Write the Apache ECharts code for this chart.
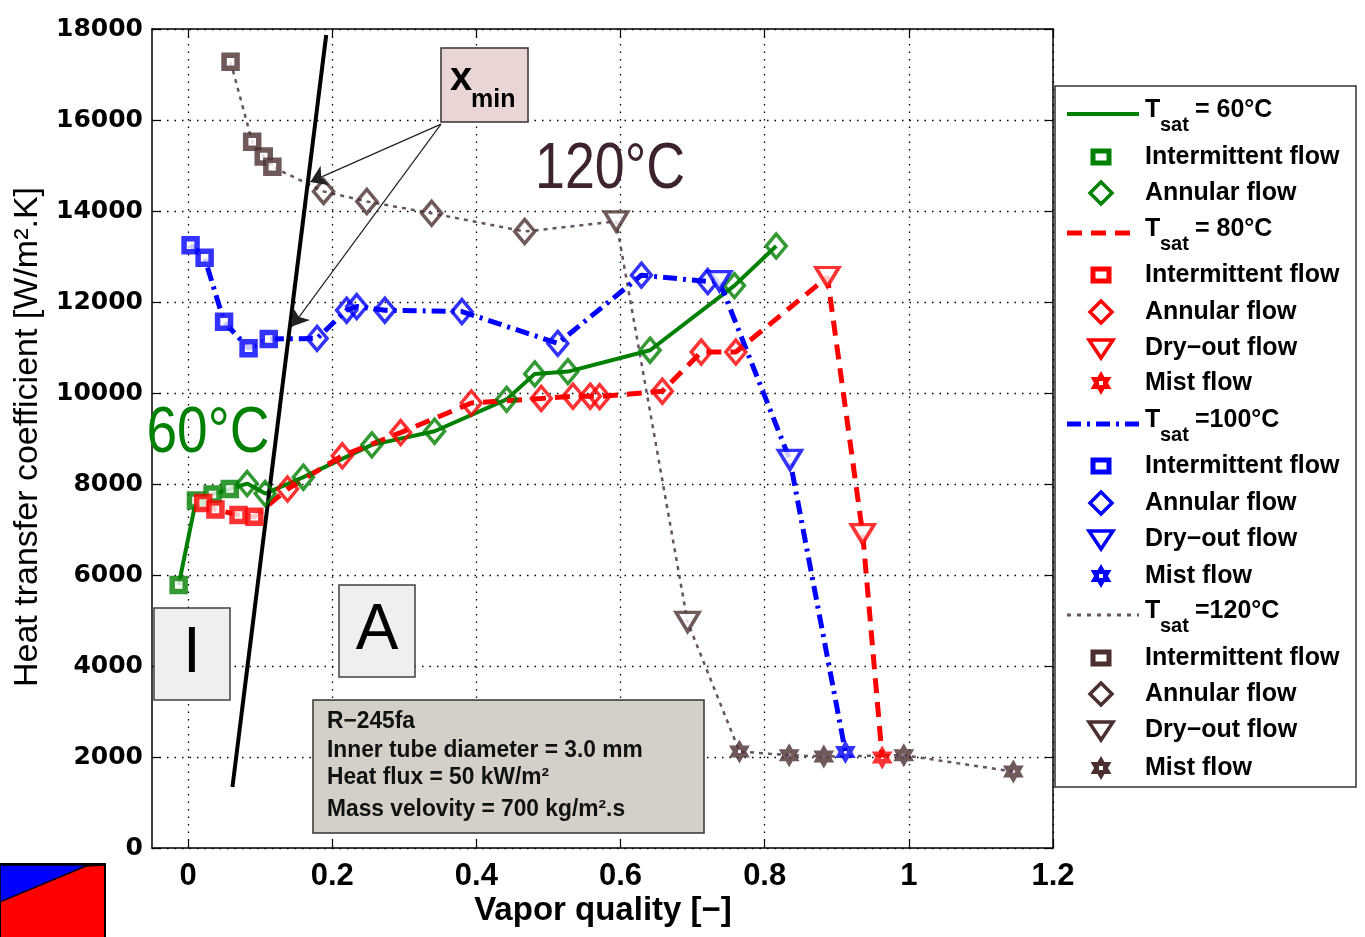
<!DOCTYPE html>
<html><head><meta charset="utf-8">
<script src="https://cdn.jsdelivr.net/npm/echarts@6/dist/echarts.min.js"></script>
<style>html,body{margin:0;padding:0;background:#fff}#c{width:1365px;height:937px}</style>
</head><body><div id="c"></div><script>
// ---- data ----
const xTickValues = [0, 0.2, 0.4, 0.6, 0.8, 1, 1.2];
const yTickValues = [0, 2000, 4000, 6000, 8000, 10000, 12000, 14000, 16000, 18000];

const t60_intermittent = [[-0.013, 5780], [0.011, 7640], [0.034, 7770], [0.058, 7890]];
const t60_annular = [[0.082, 8010], [0.107, 7790], [0.160, 8150], [0.255, 8860], [0.342, 9160], [0.442, 9860], [0.481, 10420], [0.527, 10470], [0.641, 10940], [0.758, 12360], [0.816, 13230]];

const t80_intermittent = [[0.021, 7580], [0.038, 7440], [0.070, 7320], [0.092, 7280]];
const t80_annular = [[0.138, 7890], [0.214, 8620], [0.295, 9130], [0.393, 9780], [0.490, 9880], [0.534, 9930], [0.558, 9930], [0.571, 9920], [0.658, 10040], [0.712, 10900], [0.760, 10900]];
const t80_dryout = [[0.887, 12550], [0.936, 6900]];
const t80_mist = [[0.963, 1990]];

const t100_intermittent = [[0.0035, 13250], [0.023, 12970], [0.050, 11565], [0.084, 10985], [0.112, 11185]];
const t100_annular = [[0.179, 11200], [0.220, 11820], [0.234, 11900], [0.273, 11820], [0.380, 11790], [0.513, 11090], [0.629, 12590], [0.721, 12450]];
const t100_dryout = [[0.737, 12460], [0.835, 8530]];
const t100_mist = [[0.912, 2110]];

const t120_intermittent = [[0.059, 17280], [0.089, 15520], [0.105, 15200], [0.117, 14970]];
const t120_annular = [[0.188, 14430], [0.248, 14210], [0.338, 13950], [0.467, 13550]];
const t120_dryout = [[0.594, 13770], [0.693, 4970]];
const t120_mist = [[0.765, 2120], [0.834, 2040], [0.882, 2010], [0.993, 2040], [1.145, 1680]];

const xminLine = [[0.0616, 1340], [0.1917, 17870]];
const xminArrowStart = [0.351, 15910];
const xminArrowTips = [[0.1696, 14640], [0.1442, 11460]];

// ---- styles ----
const C60 = '#008000', C80 = '#ff0000', C100 = '#0000ff', C120 = '#4b2f2f', C120line = '#665264';
const SANS = "'Liberation Sans',Arial,sans-serif";

function hexStarPts(cx, cy, R) {
  const pts = [];
  for (let i = 0; i < 12; i++) {
    const a = (-90 + i * 30) * Math.PI / 180;
    const r = (i % 2 === 0) ? R : R / Math.sqrt(3);
    pts.push([cx + r * Math.cos(a), cy + r * Math.sin(a)]);
  }
  return pts;
}
const starPts = hexStarPts(50, 50, 50);
const STAR = 'path://M' + starPts.map(p => p[0].toFixed(2) + ',' + p[1].toFixed(2)).join(' L') + ' Z M44,44 L44,56 L56,56 L56,44 Z';

function lineSeries(data, color, type, width) {
  return { type: 'line', data: data, symbol: 'none', z: 2, silent: true,
    lineStyle: { color: color, width: width, type: type } };
}
function markSeries(data, color, kind) {
  const s = { type: 'scatter', data: data, z: 4, silent: true };
  if (kind === 'rect') { s.symbol = 'rect'; s.symbolSize = 13; s.itemStyle = { color: '#fff', borderColor: color, borderWidth: 5.5 }; }
  if (kind === 'diamond') { s.symbol = 'diamond'; s.symbolSize = [20, 24]; s.itemStyle = { color: 'rgba(255,255,255,0)', borderColor: color, borderWidth: 3.5 }; }
  if (kind === 'tri') { s.symbol = 'triangle'; s.symbolRotate = 180; s.symbolSize = [23, 19]; s.itemStyle = { color: '#fff', borderColor: color, borderWidth: 3.5 }; }
  if (kind === 'star') { s.symbol = STAR; s.symbolKeepAspect = true; s.symbolSize = 24; s.itemStyle = { color: color }; }
  return s;
}

const series = [
  { type: 'line', data: xminLine, symbol: 'none', z: 3, lineStyle: { color: '#000', width: 4 } },
  { type: 'lines', coordinateSystem: 'cartesian2d', z: 5, symbol: ['none', 'arrow'], symbolSize: 16,
    lineStyle: { color: '#222', width: 1.2, opacity: 1 },
    data: xminArrowTips.map(t => ({ coords: [xminArrowStart, t] })) },
  lineSeries(t120_intermittent.concat(t120_annular, t120_dryout, t120_mist), C120line, [4, 5], 2.5),
  lineSeries(t60_intermittent.concat(t60_annular), C60, 'solid', 4),
  lineSeries(t80_intermittent.concat(t80_annular, t80_dryout, t80_mist), C80, [15, 9], 5),
  lineSeries(t100_intermittent.concat(t100_annular, t100_dryout, t100_mist), C100, [14, 6, 3, 6], 5),
  markSeries(t120_intermittent, C120, 'rect'),
  markSeries(t120_annular, C120, 'diamond'),
  markSeries(t120_dryout, C120, 'tri'),
  markSeries(t120_mist, C120, 'star'),
  markSeries(t60_intermittent, C60, 'rect'),
  markSeries(t60_annular, C60, 'diamond'),
  markSeries(t80_intermittent, C80, 'rect'),
  markSeries(t80_annular, C80, 'diamond'),
  markSeries(t80_dryout, C80, 'tri'),
  markSeries(t80_mist, C80, 'star'),
  markSeries(t100_intermittent, C100, 'rect'),
  markSeries(t100_annular, C100, 'diamond'),
  markSeries(t100_dryout, C100, 'tri'),
  markSeries(t100_mist, C100, 'star')
];

// ---- graphic: annotations and legend ----
const g = [];
function txt(x, y, text, font, fill, align, valign, extra) {
  const o = { type: 'text', x: x, y: y, z: 100, style: { text: text, font: font, fill: fill || '#000',
    align: align || 'left', verticalAlign: valign || 'middle', textAlign: align || 'left', textVerticalAlign: valign || 'middle' } };
  if (extra) Object.assign(o, extra);
  g.push(o);
}
function rect(x, y, w, h, fill, stroke, lw) {
  g.push({ type: 'rect', z: 90, shape: { x: x, y: y, width: w, height: h }, style: { fill: fill, stroke: stroke, lineWidth: lw } });
}

// axis titles
txt(28, 437, 'Heat transfer coefficient [W/m\u00b2.K]', '34px ' + SANS, '#000', 'center', 'middle', { rotation: Math.PI / 2 });
txt(603, 911, 'Vapor quality [\u2212]', 'bold 33px ' + SANS, '#000', 'center', 'middle');

// big temperature labels
txt(610, 170, '120\u00b0C', '64px ' + SANS, '#3d2230', 'center', 'middle', { scaleX: 0.84 });
txt(208, 434, '60\u00b0C', '64px ' + SANS, C60, 'center', 'middle', { scaleX: 0.86 });

// region boxes
rect(154, 608, 76, 92, '#efefef', '#404040', 1.5);
txt(192, 654, 'I', '64px ' + SANS, '#000', 'center', 'middle');
rect(339, 585, 76, 92, '#efefef', '#404040', 1.5);
txt(377, 631, 'A', '64px ' + SANS, '#000', 'center', 'middle');

// x_min box
rect(441, 48, 87, 74, '#e8d5d4', '#333', 1.5);
txt(450, 79, 'x', 'bold 40px ' + SANS, '#000', 'left', 'middle');
txt(471, 100, 'min', 'bold 25px ' + SANS, '#000', 'left', 'middle');

// info box
rect(313, 700, 391, 133, '#d4d0c8', '#333', 1.5);
const infoLines = ['R\u2212245fa', 'Inner tube diameter = 3.0 mm', 'Heat flux = 50 kW/m\u00b2', 'Mass velovity = 700 kg/m\u00b2.s'];
const infoY = [722, 751, 778, 810];
infoLines.forEach((t, i) => txt(327, infoY[i], t, 'bold 23px ' + SANS, '#111', 'left', 'middle', { scaleX: 0.99 }));

// legend box
rect(1055, 86, 301, 701, '#fff', '#333', 1.5);
const LX = 1101;
function legLine(y, color, dash, w) {
  g.push({ type: 'line', z: 95, shape: { x1: 1067, y1: y, x2: 1139, y2: y }, style: { stroke: color, lineWidth: w, lineDash: dash } });
}
function legSym(kind, y, color) {
  if (kind === 'rect') g.push({ type: 'rect', z: 95, shape: { x: LX - 8, y: y - 6, width: 16, height: 12 }, style: { fill: '#fff', stroke: color, lineWidth: 5 } });
  if (kind === 'diamond') g.push({ type: 'polygon', z: 95, shape: { points: [[LX, y - 11], [LX + 11, y], [LX, y + 11], [LX - 11, y]] }, style: { fill: '#fff', stroke: color, lineWidth: 3.5 } });
  if (kind === 'tri') g.push({ type: 'polygon', z: 95, shape: { points: [[LX - 12, y - 8], [LX + 12, y - 8], [LX, y + 10]] }, style: { fill: '#fff', stroke: color, lineWidth: 3.5 } });
  if (kind === 'star') {
    g.push({ type: 'polygon', z: 95, shape: { points: hexStarPts(LX, y, 12) }, style: { fill: color } });
    g.push({ type: 'rect', z: 96, shape: { x: LX - 2, y: y - 2, width: 4, height: 4 }, style: { fill: '#fff' } });
  }
}
const LEGFONT = 'bold 25px ' + SANS;
function legTitle(y, color, dash, w, rest) {
  legLine(y + 4, color, dash, w);
  txt(1145, y, 'T', LEGFONT, '#000', 'left', 'middle');
  txt(1160, y + 15, 'sat', 'bold 20px ' + SANS, '#000', 'left', 'middle');
  txt(1195, y, rest, LEGFONT, '#000', 'left', 'middle');
}
function legItem(y, kind, color, label) {
  legSym(kind, y, color);
  txt(1145, y, label, LEGFONT, '#000', 'left', 'middle');
}
legTitle(110, C60, null, 4, '= 60\u00b0C');
legItem(157, 'rect', C60, 'Intermittent flow');
legItem(193, 'diamond', C60, 'Annular flow');
legTitle(229, C80, [15, 9], 5, '= 80\u00b0C');
legItem(275, 'rect', C80, 'Intermittent flow');
legItem(312, 'diamond', C80, 'Annular flow');
legItem(348, 'tri', C80, 'Dry\u2212out flow');
legItem(383, 'star', C80, 'Mist flow');
legTitle(420, C100, [14, 6, 3, 6], 5, '=100\u00b0C');
legItem(466, 'rect', C100, 'Intermittent flow');
legItem(503, 'diamond', C100, 'Annular flow');
legItem(539, 'tri', C100, 'Dry\u2212out flow');
legItem(576, 'star', C100, 'Mist flow');
legTitle(611, C120line, [4, 6], 3, '=120\u00b0C');
legItem(658, 'rect', C120, 'Intermittent flow');
legItem(694, 'diamond', C120, 'Annular flow');
legItem(730, 'tri', C120, 'Dry\u2212out flow');
legItem(768, 'star', C120, 'Mist flow');

// bottom-left corner swatch
g.push({ type: 'rect', z: 80, shape: { x: 0, y: 864, width: 105, height: 80 }, style: { fill: '#ff0000', stroke: '#000', lineWidth: 2 } });
g.push({ type: 'polygon', z: 81, shape: { points: [[0, 865], [104, 865], [86, 866], [0, 902]] }, style: { fill: '#0000ff', stroke: '#000', lineWidth: 1.5 } });

const gridLine = { show: true, lineStyle: { color: '#000', type: [1.5, 6], width: 1.3 } };
const axLine = { show: true, onZero: false, lineStyle: { color: '#000', width: 1.5 } };
const tick = { show: true, inside: true, length: 8, lineStyle: { color: '#000', width: 1.2 } };
const option = {
  animation: false,
  backgroundColor: '#fff',
  grid: { left: 152, right: 312, top: 29, bottom: 89, containLabel: false },
  xAxis: [
    { type: 'value', min: -0.05, max: 1.2, interval: 0.2, position: 'bottom',
      axisLine: axLine,
      axisTick: Object.assign({ customValues: xTickValues }, tick),
      axisLabel: { customValues: xTickValues, color: '#000', fontFamily: SANS, fontWeight: 'bold', fontSize: 31, margin: 13,
        formatter: v => String(Math.round(v * 10) / 10) },
      splitLine: gridLine },
    { type: 'value', min: -0.05, max: 1.2, interval: 0.2, position: 'top',
      axisLine: axLine,
      axisTick: Object.assign({ customValues: xTickValues }, tick),
      axisLabel: { show: false }, splitLine: { show: false } }
  ],
  yAxis: [
    { type: 'value', min: 0, max: 18000, interval: 2000, position: 'left',
      axisLine: axLine, axisTick: tick,
      axisLabel: { customValues: yTickValues, color: '#000', fontFamily: "'DejaVu Sans',sans-serif", fontWeight: 'bold', fontSize: 25, margin: 9,
        formatter: v => String(v) },
      splitLine: gridLine },
    { type: 'value', min: 0, max: 18000, interval: 2000, position: 'right',
      axisLine: axLine, axisTick: tick,
      axisLabel: { show: false }, splitLine: { show: false } }
  ],
  series: series,
  graphic: { elements: g }
};
const chart = echarts.init(document.getElementById('c'), null, { renderer: 'canvas' });
chart.setOption(option);
</script></body></html>
